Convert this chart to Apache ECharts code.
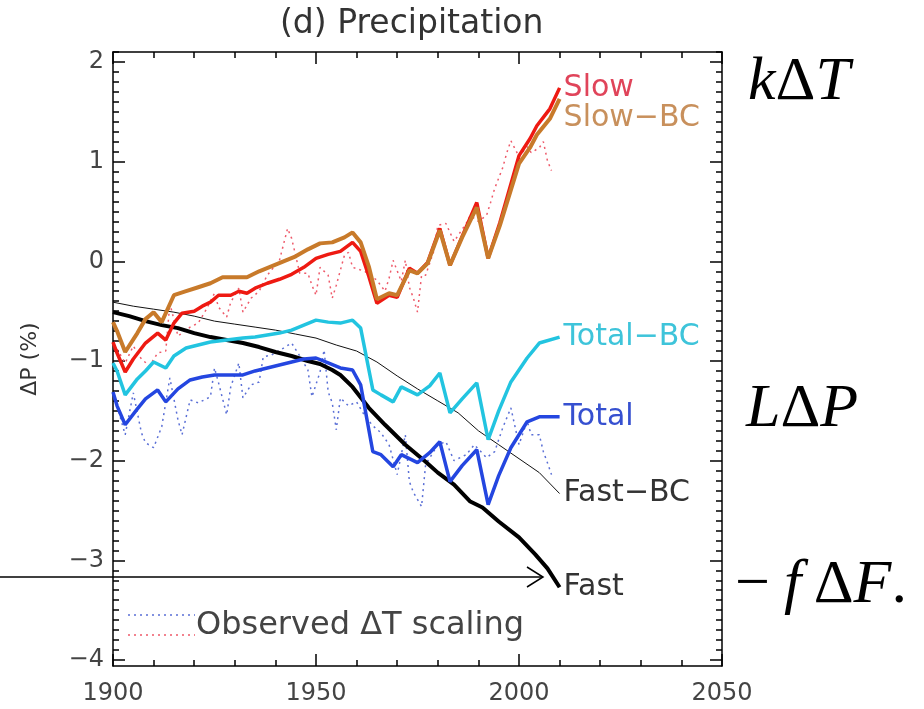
<!DOCTYPE html>
<html>
<head>
<meta charset="utf-8">
<script src="https://cdn.jsdelivr.net/npm/echarts@6/dist/echarts.min.js"></script>
<style>
  body { margin: 0; background: #fff; }
  #main { width: 924px; height: 709px; }
</style>
</head>
<body>
<div id="main"></div>
<script>
  // [year, dP %]
  var slow = [[1900,-0.81],[1901,-0.92],[1903,-1.11],[1905,-0.98],[1908,-0.82],[1911,-0.72],[1913,-0.79],[1915,-0.62],[1917,-0.52],[1920,-0.50],[1922,-0.45],[1924,-0.41],[1926,-0.34],[1929,-0.34],[1931,-0.30],[1933,-0.32],[1935,-0.27],[1938,-0.22],[1941,-0.18],[1944,-0.13],[1947,-0.06],[1950,0.03],[1953,0.07],[1956,0.10],[1959,0.19],[1961,0.10],[1963,-0.15],[1965,-0.42],[1968,-0.34],[1970,-0.36],[1973,-0.07],[1975,-0.12],[1977.5,-0.01],[1980.5,0.33],[1983,-0.04],[1986,0.25],[1989.6,0.59],[1992.4,0.03],[1995.3,0.39],[2000,1.06],[2002.7,1.23],[2004.4,1.36],[2007.6,1.53],[2010,1.74]];
  var slowBC = [[1900,-0.61],[1901,-0.70],[1903,-0.91],[1906,-0.72],[1908,-0.58],[1910,-0.51],[1912,-0.61],[1915,-0.34],[1918,-0.30],[1921,-0.26],[1924,-0.22],[1927,-0.16],[1930,-0.16],[1933,-0.16],[1936,-0.10],[1939,-0.05],[1942,0.0],[1945,0.05],[1948,0.12],[1951,0.18],[1954,0.19],[1957,0.24],[1959,0.29],[1961,0.19],[1963,-0.05],[1965,-0.38],[1968,-0.32],[1970,-0.34],[1973,-0.09],[1975,-0.12],[1977.5,-0.02],[1980.5,0.31],[1983,-0.04],[1986,0.24],[1989.6,0.54],[1992.4,0.03],[1995.3,0.36],[2000,0.98],[2002.7,1.14],[2004.4,1.27],[2007.6,1.43],[2010,1.63]];
  var totalBC = [[1900,-1.02],[1901,-1.10],[1903,-1.34],[1906,-1.18],[1908,-1.10],[1910,-1.01],[1913,-1.07],[1915,-0.95],[1918,-0.87],[1921,-0.84],[1924,-0.81],[1928,-0.79],[1932,-0.77],[1935,-0.76],[1938,-0.74],[1941,-0.72],[1944,-0.69],[1947,-0.64],[1950,-0.59],[1953,-0.61],[1956,-0.62],[1959,-0.59],[1961,-0.67],[1964,-1.29],[1966,-1.34],[1969,-1.41],[1971,-1.26],[1973,-1.30],[1975,-1.34],[1978,-1.25],[1980.5,-1.12],[1983,-1.52],[1986,-1.38],[1989.6,-1.22],[1992.4,-1.79],[1995,-1.50],[1998,-1.21],[2002,-0.97],[2005,-0.82],[2010,-0.76]];
  var total = [[1900,-1.31],[1901,-1.45],[1903,-1.64],[1906,-1.48],[1908,-1.38],[1911,-1.29],[1913,-1.41],[1916,-1.28],[1919,-1.19],[1922,-1.16],[1925,-1.14],[1929,-1.14],[1932,-1.14],[1935,-1.10],[1938,-1.07],[1941,-1.04],[1944,-1.01],[1947,-0.98],[1950,-0.97],[1953,-1.02],[1956,-1.07],[1959,-1.09],[1961,-1.24],[1964,-1.91],[1966,-1.94],[1969,-2.06],[1971,-1.94],[1973,-1.98],[1975,-2.02],[1978,-1.92],[1980.5,-1.81],[1983,-2.21],[1986,-2.05],[1989.6,-1.89],[1992.4,-2.44],[1995,-2.15],[1998,-1.87],[2002,-1.61],[2005,-1.56],[2010,-1.56]];
  var fast = [[1900,-0.51],[1904,-0.55],[1908,-0.60],[1912,-0.64],[1916,-0.67],[1920,-0.72],[1924,-0.76],[1928,-0.79],[1932,-0.82],[1936,-0.86],[1940,-0.91],[1944,-0.95],[1948,-1.00],[1951,-1.03],[1954,-1.09],[1956,-1.14],[1959,-1.26],[1963,-1.47],[1967,-1.64],[1972,-1.84],[1977,-2.01],[1980,-2.12],[1984,-2.24],[1988,-2.41],[1991,-2.47],[1995,-2.61],[2000,-2.77],[2004,-2.94],[2007,-3.08],[2010,-3.27]];
  var fastBC = [[1900,-0.41],[1905,-0.45],[1910,-0.48],[1915,-0.51],[1920,-0.55],[1925,-0.60],[1930,-0.63],[1935,-0.66],[1940,-0.69],[1945,-0.73],[1950,-0.77],[1955,-0.84],[1960,-0.90],[1965,-1.01],[1970,-1.15],[1975,-1.28],[1980,-1.40],[1985,-1.52],[1990,-1.70],[1995,-1.84],[2000,-1.98],[2005,-2.12],[2010,-2.33]];
  // observed dT scaling (dotted)
  var obsTotal = [[1901,-1.45],[1903,-1.74],[1905,-1.32],[1907,-1.72],[1908,-1.82],[1910,-1.87],[1912,-1.66],[1914,-1.17],[1916,-1.59],[1917,-1.74],[1919,-1.39],[1921,-1.42],[1924,-1.36],[1925,-1.07],[1926,-1.22],[1928,-1.54],[1929,-1.26],[1931,-1.02],[1932,-1.37],[1934,-1.24],[1936,-1.21],[1937,-0.96],[1939,-0.94],[1942,-0.87],[1944,-0.82],[1946,-0.95],[1948,-1.09],[1949,-1.36],[1951,-1.11],[1952,-0.89],[1953,-1.31],[1954,-1.42],[1955,-1.69],[1956,-1.37],[1958,-1.45],[1960,-1.41],[1962,-1.55],[1964,-1.65],[1966,-1.72],[1968,-1.84],[1970,-2.14],[1972,-1.74],[1973,-2.21],[1974,-2.32],[1976,-2.46],[1977,-2.04],[1980,-1.84],[1982,-1.81],[1984,-2.00],[1987,-1.94],[1989,-1.84],[1992,-1.97],[1994,-1.91],[1996,-1.67],[1998,-1.47],[2000,-1.84],[2002,-1.60],[2003,-1.74],[2005,-1.74],[2006,-1.91],[2007,-2.02],[2008,-2.14]];
  var obsSlow = [[1901,-0.88],[1903,-1.02],[1905,-0.85],[1907,-0.98],[1909,-1.05],[1911,-0.92],[1913,-0.90],[1914,-0.42],[1916,-0.75],[1919,-0.66],[1921,-0.62],[1923,-0.48],[1925,-0.32],[1926,-0.46],[1928,-0.56],[1929,-0.41],[1931,-0.27],[1932,-0.51],[1934,-0.37],[1936,-0.30],[1938,-0.14],[1941,0.01],[1943,0.33],[1944,0.23],[1946,-0.12],[1948,-0.12],[1949,-0.24],[1950,-0.34],[1951,-0.06],[1953,-0.14],[1954,-0.37],[1955,-0.24],[1956,-0.09],[1957,0.06],[1958,0.09],[1959,-0.06],[1962,-0.10],[1965,-0.19],[1967,-0.30],[1968,-0.17],[1969,0.01],[1971,-0.20],[1972,0.01],[1973,-0.26],[1974,-0.37],[1975,-0.51],[1976,-0.14],[1977,-0.14],[1979,0.10],[1980,0.36],[1982,0.38],[1984,0.20],[1987,0.38],[1988,0.46],[1990,0.40],[1992,0.46],[1993,0.59],[1994,0.73],[1996,0.94],[1997,1.09],[1998,1.21],[2000,1.05],[2002,1.15],[2003,1.09],[2005,1.14],[2006,1.20],[2007,1.01],[2008,0.91]];

  var xTicks = [1900, 1950, 2000, 2050];
  var yTicks = [-4, -3, -2, -1, 0, 1, 2];

  var yMinor = [];
  for (var v = -40; v <= 21; v++) yMinor.push(v / 10);

  var FONT = 'DejaVu Sans';
  var MATH = 'Liberation Serif';

  function line(name, data, color, width, labelColor, offset) {
    return {
      name: name, type: 'line', data: data, showSymbol: false, animation: false,
      lineStyle: { color: color, width: width }, z: 3,
      endLabel: {
        show: !!labelColor, formatter: name, color: labelColor, fontFamily: FONT,
        fontSize: 30, distance: 4, offset: offset || [0, 0]
      }
    };
  }
  function dotted(data, color) {
    return {
      type: 'line', data: data, showSymbol: false, animation: false, z: 2,
      lineStyle: { color: color, width: 1.5, type: [2, 4] }
    };
  }

  var chart = echarts.init(document.getElementById('main'));
  var tickStyle = { color: '#000', width: 1.5 };
  var xBase = { type: 'value', min: 1900, max: 2050, interval: 50, splitLine: { show: false } };
  var yBase = { type: 'value', min: -4.06, max: 2.1, splitLine: { show: false } };
  var mathRich = {
    i: { fontFamily: MATH, fontStyle: 'italic', fontSize: 62, fill: '#000' },
    n: { fontFamily: MATH, fontSize: 62, fill: '#000' }
  };

  chart.setOption({
    backgroundColor: '#fff',
    title: {
      text: '(d) Precipitation', left: 275, top: 3,
      textStyle: { fontFamily: FONT, fontSize: 33, fontWeight: 'normal', color: '#333' }
    },
    grid: { left: 113, right: 202, top: 52, bottom: 43 },
    xAxis: [
      Object.assign({}, xBase, {
        position: 'bottom',
        axisLine: { onZero: false, lineStyle: tickStyle },
        axisTick: { inside: true, length: 12, lineStyle: tickStyle },
        minorTick: { show: true, splitNumber: 5, length: 6, lineStyle: tickStyle },
        axisLabel: { customValues: xTicks, margin: 16, fontFamily: FONT, fontSize: 24, color: '#444',
          formatter: function (v) { return String(v); } }
      }),
      Object.assign({}, xBase, {
        position: 'top',
        axisLine: { onZero: false, lineStyle: tickStyle },
        axisTick: { inside: true, length: 12, lineStyle: tickStyle },
        minorTick: { show: true, splitNumber: 5, length: 6, lineStyle: tickStyle },
        axisLabel: { show: false }
      })
    ],
    yAxis: [
      Object.assign({}, yBase, {
        position: 'left',
        name: 'ΔP (%)', nameLocation: 'middle', nameGap: 72, nameRotate: 90,
        nameTextStyle: { fontFamily: FONT, fontSize: 22, color: '#333' },
        axisLine: { onZero: false, lineStyle: tickStyle },
        axisTick: { inside: true, length: 12, customValues: yTicks, lineStyle: tickStyle },
        axisLabel: { customValues: yTicks, margin: 9, fontFamily: FONT, fontSize: 24, color: '#444',
          formatter: function (v) { return v < 0 ? '−' + (-v) : String(v); } }
      }),
      Object.assign({}, yBase, {
        position: 'left',
        axisLine: { show: false, onZero: false },
        axisTick: { inside: true, length: 6, customValues: yMinor, lineStyle: tickStyle },
        axisLabel: { show: false }
      }),
      Object.assign({}, yBase, {
        position: 'right',
        axisLine: { show: true, onZero: false, lineStyle: tickStyle },
        axisTick: { inside: true, length: 12, customValues: yTicks, lineStyle: tickStyle },
        axisLabel: { show: false }
      }),
      Object.assign({}, yBase, {
        position: 'right',
        axisLine: { show: false, onZero: false },
        axisTick: { inside: true, length: 6, customValues: yMinor, lineStyle: tickStyle },
        axisLabel: { show: false }
      })
    ],
    series: [
      dotted(obsTotal, '#5a6fd6'),
      dotted(obsSlow, '#ee5a6a'),
      line('Fast−BC', fastBC, '#111', 1, '#333'),
      line('Fast', fast, '#000', 4, '#333'),
      line('Total', total, '#2446e0', 3.5, '#3650d0'),
      line('Total−BC', totalBC, '#22c4e0', 3.5, '#3ec4da'),
      line('Slow', slow, '#ee1a12', 3.5, '#e0445a'),
      line('Slow−BC', slowBC, '#c87a2a', 4, '#c8905c', [0, 19])
    ],
    graphic: [
      // legend for the dotted lines
      { type: 'line', shape: { x1: 128, y1: 615, x2: 195, y2: 615 },
        style: { stroke: '#5a6fd6', lineWidth: 1.5, lineDash: [2, 4] } },
      { type: 'line', shape: { x1: 128, y1: 635, x2: 195, y2: 635 },
        style: { stroke: '#ee5a6a', lineWidth: 1.5, lineDash: [2, 4] } },
      { type: 'text', x: 196, y: 626,
        style: { text: 'Observed ΔT scaling', font: '32px "DejaVu Sans"', fill: '#444', verticalAlign: 'middle' } },
      // arrow
      { type: 'line', z: 50, shape: { x1: 0, y1: 577, x2: 543, y2: 577 }, style: { stroke: '#000', lineWidth: 1.5 } },
      { type: 'polyline', z: 50, shape: { points: [[527, 567], [543, 577], [527, 587]] },
        style: { stroke: '#000', lineWidth: 1.5, fill: null } },
      // equation terms
      { type: 'text', x: 748, y: 83,
        style: { text: '{i|k}{n|Δ}{i|T}', verticalAlign: 'middle', fill: '#000', rich: mathRich } },
      { type: 'text', x: 746, y: 410,
        style: { text: '{i|L}{n|Δ}{i|P}', verticalAlign: 'middle', fill: '#000', rich: mathRich } },
      { type: 'text', x: 735, y: 586,
        style: { text: '{n|−}', verticalAlign: 'middle', fill: '#000', rich: mathRich } },
      { type: 'text', x: 784, y: 586,
        style: { text: '{i|f}{n|\u2009Δ}{i|F}{n|.}', verticalAlign: 'middle', fill: '#000', rich: mathRich } }
    ]
  });
</script>
</body>
</html>
